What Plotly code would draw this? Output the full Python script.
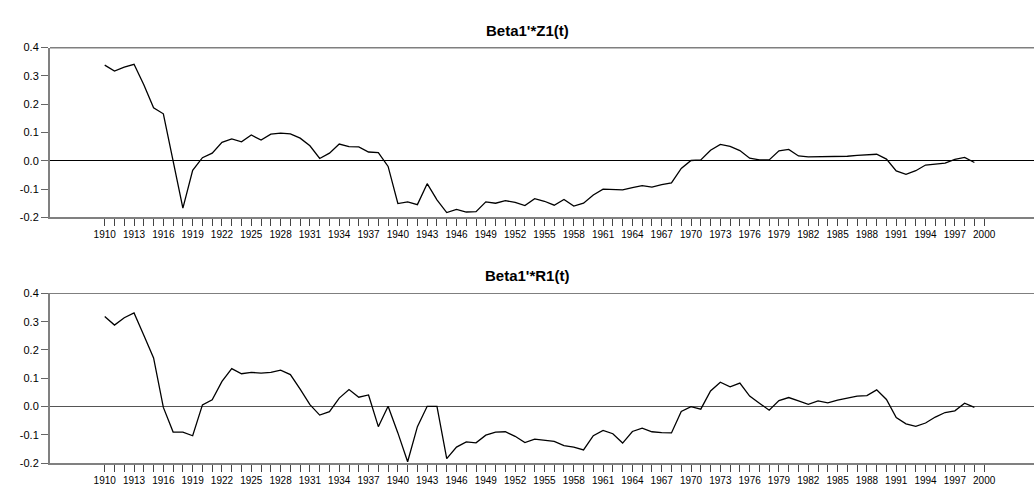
import plotly.graph_objects as go

years = list(range(1910, 2000))

z1 = [0.338, 0.317, 0.331, 0.341, 0.269, 0.187, 0.166, 0.000, -0.167, -0.034,
      0.011, 0.027, 0.065, 0.077, 0.067, 0.091, 0.073, 0.094, 0.098, 0.095,
      0.080, 0.053, 0.008, 0.027, 0.059, 0.050, 0.049, 0.031, 0.029, -0.020,
      -0.151, -0.145, -0.155, -0.081, -0.138, -0.183, -0.172, -0.181, -0.180, -0.145,
      -0.150, -0.141, -0.147, -0.158, -0.134, -0.143, -0.157, -0.137, -0.160, -0.150,
      -0.121, -0.100, -0.101, -0.103, -0.095, -0.088, -0.093, -0.084, -0.078, -0.027,
      0.001, 0.003, 0.037, 0.058, 0.051, 0.036, 0.009, 0.003, 0.003, 0.035,
      0.040, 0.017, 0.014, 0.014, 0.014, 0.015, 0.016, 0.019, 0.020, 0.023,
      0.006, -0.036, -0.048, -0.035, -0.015, -0.012, -0.008, 0.005, 0.012, -0.006]

r1 = [0.318, 0.288, 0.314, 0.331, 0.252, 0.172, -0.003, -0.090, -0.090, -0.103,
      0.006, 0.024, 0.089, 0.134, 0.116, 0.121, 0.118, 0.121, 0.129, 0.113,
      0.062, 0.007, -0.030, -0.018, 0.030, 0.060, 0.033, 0.041, -0.071, 0.001,
      -0.093, -0.195, -0.071, 0.001, 0.001, -0.184, -0.143, -0.125, -0.128, -0.101,
      -0.090, -0.089, -0.105, -0.127, -0.115, -0.120, -0.123, -0.138, -0.143, -0.153,
      -0.103, -0.084, -0.096, -0.129, -0.088, -0.076, -0.089, -0.092, -0.093, -0.017,
      0.000, -0.009, 0.055, 0.086, 0.070, 0.083, 0.037, 0.012, -0.013, 0.021,
      0.032, 0.020, 0.008, 0.020, 0.013, 0.023, 0.030, 0.037, 0.039, 0.059,
      0.025, -0.039, -0.061, -0.070, -0.058, -0.037, -0.021, -0.015, 0.012, -0.003]

titles = ["Beta1'*Z1(t)", "Beta1'*R1(t)"]

x_tickvals = list(range(1910, 2001, 3))
x_ticktext = [str(y) for y in x_tickvals]
x_minorvals = list(range(1910, 2001))
y_tickvals = [-0.2, -0.1, 0.0, 0.1, 0.2, 0.3, 0.4]
y_ticktext = ["-0.2", "-0.1", "0.0", "0.1", "0.2", "0.3", "0.4"]

W, H = 1034, 486
L, B = 50, 10
PH = H - B

fig = go.Figure()
fig.add_trace(go.Scatter(x=years, y=z1, mode="lines", line=dict(color="black", width=1.3),
                         xaxis="x", yaxis="y", showlegend=False))
fig.add_trace(go.Scatter(x=years, y=r1, mode="lines", line=dict(color="black", width=1.3),
                         xaxis="x2", yaxis="y2", showlegend=False))

xcommon = dict(range=[1904.4, 2005.1], tickmode="array", tickvals=x_tickvals, ticktext=x_ticktext,
               ticks="outside", ticklen=7, tickwidth=1.2, tickcolor="#444444",
               minor=dict(ticks="outside", tickmode="array", tickvals=x_minorvals,
                          ticklen=7, tickwidth=1.2, tickcolor="#444444", showgrid=False),
               showline=True, linecolor="#808080", linewidth=1.5, showgrid=False, zeroline=False,
               tickfont=dict(family="Liberation Sans Narrow, Arial Narrow, Liberation Sans", size=10, color="black"),
               fixedrange=True)
ycommon = dict(range=[-0.2, 0.4], tickmode="array", tickvals=y_tickvals, ticktext=y_ticktext,
               ticks="outside", ticklen=7, tickwidth=1.2, tickcolor="#666666",
               showline=True, linecolor="#808080", linewidth=2, showgrid=False,
               zeroline=True, zerolinewidth=1.2,
               tickfont=dict(family="Liberation Sans, Arial", size=11, color="black"),
               fixedrange=True)

top_dom = [(PH - 215) / PH, (PH - 42.3) / PH]
bot_dom = [(PH - 465) / PH, (PH - 292.3) / PH]

fig.update_layout(
    width=W, height=H,
    margin=dict(l=L, r=0, t=0, b=B),
    paper_bgcolor="white", plot_bgcolor="white",
    xaxis=dict(**xcommon, anchor="y"),
    yaxis=dict(**ycommon, domain=top_dom, anchor="x", zerolinecolor="black"),
    xaxis2=dict(**xcommon, anchor="y2"),
    yaxis2=dict(**ycommon, domain=bot_dom, anchor="x2", zerolinecolor="#555555"),
    shapes=[
        dict(type="line", xref="x domain", yref="y", x0=0, x1=1, y0=0.4, y1=0.4,
             line=dict(color="black", width=1.2)),
        dict(type="line", xref="x2 domain", yref="y2", x0=0, x1=1, y0=0.4, y1=0.4,
             line=dict(color="black", width=1.2)),
    ],
    annotations=[
        dict(text="<b>" + titles[0] + "</b>", xref="paper", yref="paper",
             x=(527 - L) / (W - L), y=(PH - 24.5) / PH, xanchor="center", yanchor="middle",
             showarrow=False, font=dict(family="Liberation Sans, Arial", size=15, color="black")),
        dict(text="<b>" + titles[1] + "</b>", xref="paper", yref="paper",
             x=(527 - L) / (W - L), y=(PH - 274.5) / PH, xanchor="center", yanchor="middle",
             showarrow=False, font=dict(family="Liberation Sans, Arial", size=15, color="black")),
    ],
)

fig.write_html("out.html")
